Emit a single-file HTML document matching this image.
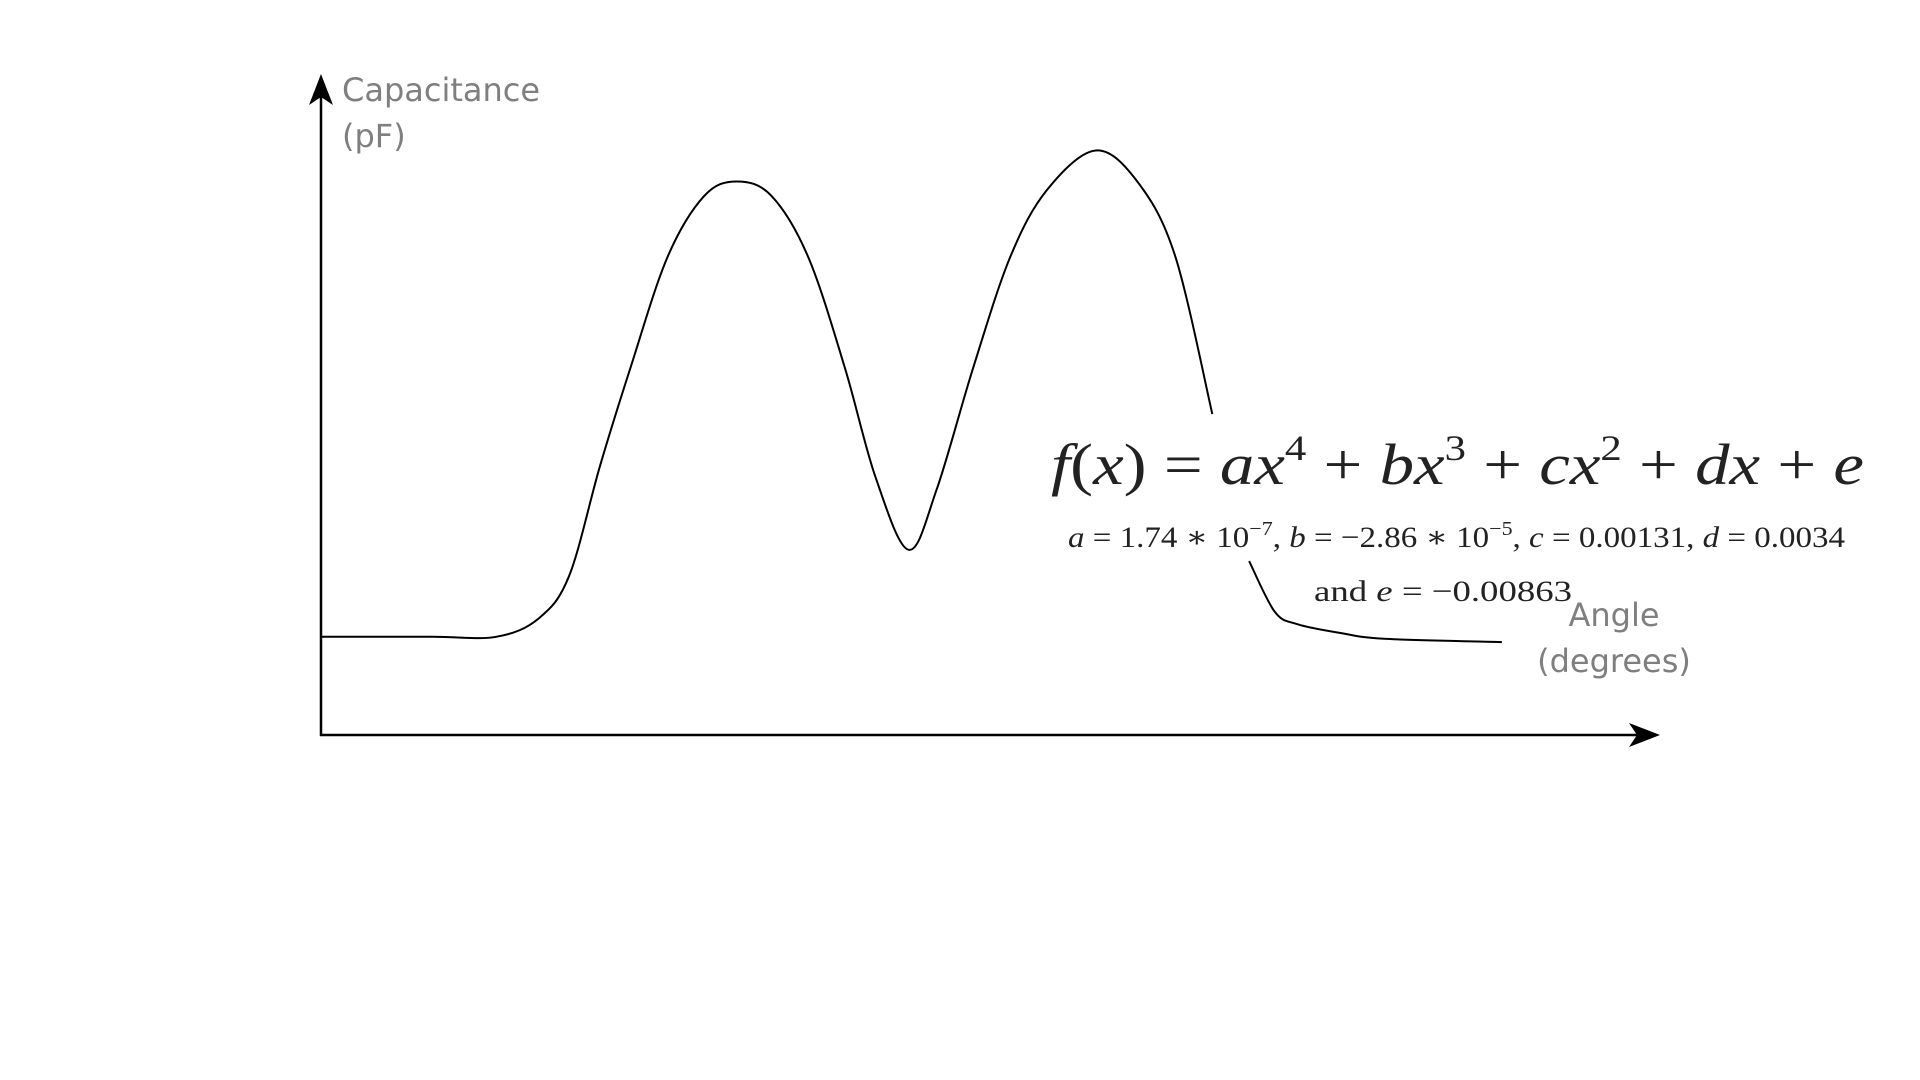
<!DOCTYPE html>
<html><head><meta charset="utf-8"><style>
html,body{margin:0;padding:0;background:#fff;width:1920px;height:1080px;overflow:hidden}
svg{display:block}
.lab{font-family:"DejaVu Sans","Liberation Sans",sans-serif;fill:#7f7f7f;font-size:32px}
.math{font-family:"Liberation Serif","DejaVu Serif",serif;fill:#222}
</style></head><body>
<svg id="chart" width="1920" height="1080" viewBox="0 0 1920 1080">
<g id="axes">
<line x1="321" y1="736" x2="321" y2="95" stroke="#000" stroke-width="2.5"/>
<polygon points="321,74 309,105 321,97 333,105" fill="#000"/>
<line x1="320" y1="735" x2="1640" y2="735" stroke="#000" stroke-width="2.5"/>
<polygon points="1660,735 1629,723 1637,735 1629,747" fill="#000"/>
</g>
<text class="lab" x="342" y="101">Capacitance</text>
<text class="lab" x="342" y="147">(pF)</text>
<text class="lab" x="1614" y="626" text-anchor="middle">Angle</text>
<text class="lab" x="1614" y="672" text-anchor="middle">(degrees)</text>
<g id="curves"></g>
<text class="math" x="1051" y="484" font-size="58" textLength="813" lengthAdjust="spacingAndGlyphs"><tspan font-style="italic">f</tspan>(<tspan font-style="italic">x</tspan>) = <tspan font-style="italic">ax</tspan><tspan font-size="36" dy="-24">4</tspan><tspan dy="24"> + </tspan><tspan font-style="italic">bx</tspan><tspan font-size="36" dy="-24">3</tspan><tspan dy="24"> + </tspan><tspan font-style="italic">cx</tspan><tspan font-size="36" dy="-24">2</tspan><tspan dy="24"> + </tspan><tspan font-style="italic">dx</tspan> + <tspan font-style="italic">e</tspan></text>
<text class="math" x="1068" y="547" font-size="30" textLength="777" lengthAdjust="spacingAndGlyphs"><tspan font-style="italic">a</tspan> = 1.74 ∗ 10<tspan font-size="20" dy="-12">−7</tspan><tspan dy="12">, </tspan><tspan font-style="italic">b</tspan> = −2.86 ∗ 10<tspan font-size="20" dy="-12">−5</tspan><tspan dy="12">, </tspan><tspan font-style="italic">c</tspan> = 0.00131, <tspan font-style="italic">d</tspan> = 0.0034</text>
<text class="math" x="1314" y="601" font-size="30" textLength="258" lengthAdjust="spacingAndGlyphs">and <tspan font-style="italic">e</tspan> = −0.00863</text>
</svg>
<script>
// curve data: angle (degrees) and capacitance (arbitrary pF units)
const angles1 = [0,30,47.1,58.6,66.8,75.1,83.3,93.2,103.1,111.9,121.2,131.1,140.9,149.2,158.1,165.6,175.5,185.4,195.3,208.5,220.0,229.9,239.8];
const caps1 = [14.9,14.9,14.9,17.7,24.2,40.9,55.8,72.5,81.8,84.0,81.8,72.5,55.8,39.1,28.1,37.2,55.8,72.5,82.7,88.7,83.7,72.5,48.7];
const angles2 = [249.7,256.6,262.8,274.1,286,317.7];
const caps2 = [26.4,18.7,16.8,15.5,14.6,14.1];

const xS = v => 321 + v * 3.717;
const yS = v => 735 - v * 6.59;
function pathFor(xs, ys){
  const p = xs.map((a,i)=>[xS(a), yS(ys[i])]);
  let d = 'M' + p[0][0] + ',' + p[0][1];
  for(let i=0;i<p.length-1;i++){
    const p0=p[Math.max(0,i-1)], p1=p[i], p2=p[i+1], p3=p[Math.min(p.length-1,i+2)];
    const c1=[p1[0]+(p2[0]-p0[0])/6, p1[1]+(p2[1]-p0[1])/6];
    const c2=[p2[0]-(p3[0]-p1[0])/6, p2[1]-(p3[1]-p1[1])/6];
    d += ' C'+c1[0]+','+c1[1]+' '+c2[0]+','+c2[1]+' '+p2[0]+','+p2[1];
  }
  return d;
}
const g = document.getElementById('curves');
[[angles1,caps1,'capacitance-curve'],[angles2,caps2,'capacitance-curve-tail']].forEach(([xs,ys,n])=>{
  const el = document.createElementNS('http://www.w3.org/2000/svg','path');
  el.setAttribute('d', pathFor(xs,ys));
  el.setAttribute('fill','none');
  el.setAttribute('stroke','#000');
  el.setAttribute('stroke-width','2');
  
  
  g.appendChild(el);
});
</script>
</body></html>
